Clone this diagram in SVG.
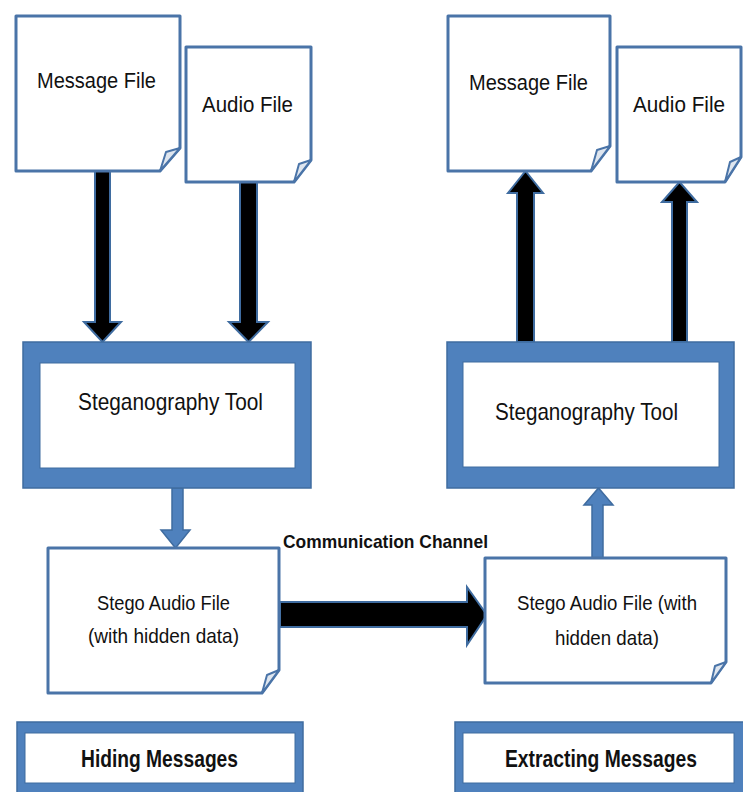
<svg xmlns="http://www.w3.org/2000/svg" width="743" height="792" viewBox="0 0 743 792">
<style>
.doc{fill:#fff;stroke:#4a74a8;stroke-width:3;stroke-linejoin:round}
.fold{fill:#dfe6ef;stroke:#4a74a8;stroke-width:2;stroke-linejoin:round}
.tool{fill:#4f81bd;stroke:#3f6ca0;stroke-width:1.5}
.inner{fill:#fff;stroke:#3f6ca0;stroke-width:1}
.blk{fill:#000;stroke:#3f6ca0;stroke-width:2;stroke-linejoin:miter}
.blue{fill:#4f81bd;stroke:#3f6ca0;stroke-width:1.5}
text{font-family:"Liberation Sans",Arial,sans-serif;fill:#111;text-anchor:start}
.t22{font-size:22px}
.t24{font-size:24px}
.t21{font-size:21px}
.t19{font-size:19px}
.b{font-weight:bold}
</style>
<rect width="743" height="792" fill="#fff"/>
<g id="connectors">
  <path class="blk" d="M95,171 V322 H84 L102.5,342 L121,322 H110 V171 Z"/>
  <path class="blk" d="M240,182 V322 H229 L248.5,342 L268,322 H257 V182 Z"/>
  <path class="blk" d="M517,342 V193 H508 L525.5,171 L543,193 H534 V342 Z"/>
  <path class="blk" d="M672,342 V202 H662 L679.5,182 L697,202 H687 V342 Z"/>
  <path class="blue" d="M172,488 V530 H161 L175.5,548 L190,530 H183 V488 Z"/>
  <path class="blue" d="M592,558 V505 H584 L598.5,488 L613,505 H603 V558 Z"/>
  <path class="blk" d="M280,602 H467 V587 L487,615 L467,645 V627 H280 Z"/>
  <text class="t19 b" x="283" y="548" textLength="205" lengthAdjust="spacingAndGlyphs">Communication Channel</text>
</g>
<g id="msg-left">
  <path class="doc" d="M16,16 H180 V148 L160,171 H16 Z"/>
  <path class="fold" d="M180,148 L166,152 L160,171 Z"/>
  <text class="t22" x="37" y="88" textLength="119" lengthAdjust="spacingAndGlyphs">Message File</text>
</g>
<g id="audio-left">
  <path class="doc" d="M186,47 H311 V160 L294,182 H186 Z"/>
  <path class="fold" d="M311,160 L299,164 L294,182 Z"/>
  <text class="t22" x="202" y="112" textLength="91" lengthAdjust="spacingAndGlyphs">Audio File</text>
</g>
<g id="msg-right">
  <path class="doc" d="M448,16 H610 V146 L591,171 H448 Z"/>
  <path class="fold" d="M610,146 L597,150 L591,171 Z"/>
  <text class="t22" x="469" y="90" textLength="119" lengthAdjust="spacingAndGlyphs">Message File</text>
</g>
<g id="audio-right">
  <path class="doc" d="M617,47 H741 V157 L725,182 H617 Z"/>
  <path class="fold" d="M741,157 L730,162 L725,182 Z"/>
  <text class="t22" x="633" y="112" textLength="92" lengthAdjust="spacingAndGlyphs">Audio File</text>
</g>
<g id="tool-left">
  <rect class="tool" x="23" y="342" width="288" height="146"/>
  <rect class="inner" x="40" y="363" width="255" height="105"/>
  <text class="t24" x="78" y="410" textLength="185" lengthAdjust="spacingAndGlyphs">Steganography Tool</text>
</g>
<g id="tool-right">
  <rect class="tool" x="447" y="342" width="287" height="146"/>
  <rect class="inner" x="463" y="362" width="256" height="105"/>
  <text class="t24" x="495" y="420" textLength="183" lengthAdjust="spacingAndGlyphs">Steganography Tool</text>
</g>
<g id="stego-left">
  <path class="doc" d="M48,548 H279 V670 L262,693 H48 Z"/>
  <path class="fold" d="M279,670 L267,675 L262,693 Z"/>
  <text class="t21" x="97" y="610" textLength="133" lengthAdjust="spacingAndGlyphs">Stego Audio File</text>
  <text class="t21" x="88" y="643" textLength="151" lengthAdjust="spacingAndGlyphs">(with hidden data)</text>
</g>
<g id="stego-right">
  <path class="doc" d="M485,558 H726 V662 L711,683 H485 Z"/>
  <path class="fold" d="M726,662 L715,666 L711,683 Z"/>
  <text class="t21" x="517" y="610" textLength="180" lengthAdjust="spacingAndGlyphs">Stego Audio File (with</text>
  <text class="t21" x="555" y="645" textLength="104" lengthAdjust="spacingAndGlyphs">hidden data)</text>
</g>
<g id="hiding">
  <rect class="tool" x="17" y="722" width="286" height="72"/>
  <rect class="inner" x="25" y="733" width="270" height="50"/>
  <text class="t24 b" x="81" y="767" textLength="157" lengthAdjust="spacingAndGlyphs">Hiding Messages</text>
</g>
<g id="extracting">
  <rect class="tool" x="455" y="722" width="290" height="72"/>
  <rect class="inner" x="463" y="733" width="271" height="50"/>
  <text class="t24 b" x="505" y="767" textLength="192" lengthAdjust="spacingAndGlyphs">Extracting Messages</text>
</g>
</svg>
